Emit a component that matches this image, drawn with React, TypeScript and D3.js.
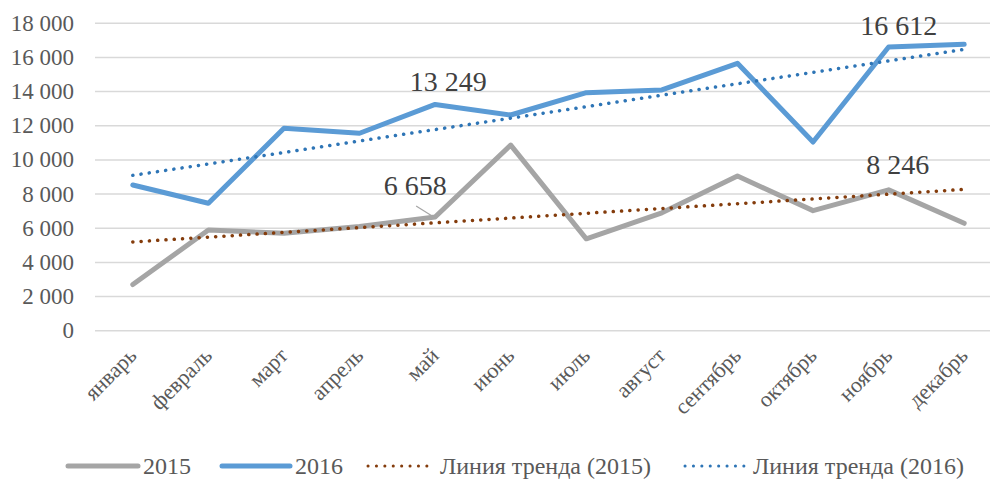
import React from 'react';
import * as d3 from 'd3';

const months = ['январь', 'февраль', 'март', 'апрель', 'май', 'июнь', 'июль', 'август', 'сентябрь', 'октябрь', 'ноябрь', 'декабрь'];
const values2015 = [2700, 5900, 5700, 6100, 6658, 10870, 5380, 6900, 9060, 7030, 8246, 6290];
const values2016 = [8530, 7460, 11850, 11560, 13249, 12630, 13935, 14100, 15655, 11050, 16612, 16770];
const yTicks = [0, 2000, 4000, 6000, 8000, 10000, 12000, 14000, 16000, 18000];

// labelled points: series, month index, label offset
const labels = [
    { series: 2015, idx: 4, dx: -20, dy: -22, leader: true },
    { series: 2016, idx: 4, dx: 13, dy: -13, leader: false },
    { series: 2015, idx: 10, dx: 9, dy: -16, leader: false },
    { series: 2016, idx: 10, dx: 10, dy: -12, leader: false },
];

const W = 990;
const H = 479;
const FONT = '"Liberation Serif", "Times New Roman", Times, serif';
const TEXT = '#595959';

const fmt = (v: number) => d3.format(',')(v).replace(/,/g, ' ');

function trend(vals: number[]) {
    const n = vals.length;
    const xs = vals.map((_, i) => i + 1);
    const mx = d3.mean(xs)!;
    const my = d3.mean(vals)!;
    const sxy = d3.sum(vals, (v, i) => (xs[i] - mx) * (v - my));
    const sxx = d3.sum(xs, x => (x - mx) ** 2);
    const b = sxy / sxx;
    const a = my - b * mx;
    return [a + b * 1, a + b * n];
}

const App: React.FC = () => {
    const x = d3.scaleBand<string>().domain(months).range([95, 1002]);
    const y = d3.scaleLinear().domain([0, 18000]).range([330.7, 23.3]);
    const cx = (m: string) => x(m)! + x.bandwidth() / 2;

    const line = d3.line<number>()
        .x((_, i) => cx(months[i]))
        .y(d => y(d));

    const t15 = trend(values2015);
    const t16 = trend(values2016);
    const first = cx(months[0]);
    const last = cx(months[months.length - 1]);

    const series: { [k: number]: number[] } = { 2015: values2015, 2016: values2016 };

    const legend = [
        { x: 68, w: 70, text: '2015', color: '#a5a5a5', dotted: false },
        { x: 222, w: 68, text: '2016', color: '#5b9bd5', dotted: false },
        { x: 368, w: 67, text: 'Линия тренда (2015)', color: '#843c0c', dotted: true },
        { x: 685, w: 63, text: 'Линия тренда (2016)', color: '#2e75b6', dotted: true },
    ];

    return (
        <svg width={W} height={H} style={{ position: 'absolute', left: 0, top: 0, background: '#fff', fontFamily: FONT }}>
            {yTicks.map(t => (
                <g key={t}>
                    <line x1={95} x2={1002} y1={y(t)} y2={y(t)} stroke="#d9d9d9" strokeWidth={1.5} />
                    <text x={74} y={y(t) + 7.5} textAnchor="end" fontSize={23} fill={TEXT}>{fmt(t)}</text>
                </g>
            ))}

            {months.map(m => (
                <text key={m} transform={`translate(${cx(m) + 5},${357}) rotate(-45)`} textAnchor="end" fontSize={22} fill={TEXT}>{m}</text>
            ))}

            <path d={line(values2015)!} fill="none" stroke="#a5a5a5" strokeWidth={5} strokeLinejoin="round" strokeLinecap="round" />
            <path d={line(values2016)!} fill="none" stroke="#5b9bd5" strokeWidth={5} strokeLinejoin="round" strokeLinecap="round" />

            <line x1={first} x2={last} y1={y(t15[0])} y2={y(t15[1])} stroke="#843c0c" strokeWidth={3.5} strokeDasharray="0.1 8.2" strokeLinecap="round" />
            <line x1={first} x2={last} y1={y(t16[0])} y2={y(t16[1])} stroke="#2e75b6" strokeWidth={3.5} strokeDasharray="0.1 8.2" strokeLinecap="round" />

            {labels.map((l, i) => {
                const v = series[l.series][l.idx];
                const px = cx(months[l.idx]);
                const py = y(v);
                return (
                    <g key={i}>
                        {l.leader && <line x1={px - 3} y1={py - 1} x2={px - 19} y2={py - 11} stroke="#a5a5a5" strokeWidth={1.2} />}
                        <text x={px + l.dx} y={py + l.dy} textAnchor="middle" fontSize={28} fill="#404040">{fmt(v)}</text>
                    </g>
                );
            })}

            {legend.map(l => (
                <g key={l.text}>
                    {l.dotted
                        ? <line x1={l.x} x2={l.x + l.w} y1={466} y2={466} stroke={l.color} strokeWidth={3} strokeDasharray="0.1 8.3" strokeLinecap="round" />
                        : <line x1={l.x} x2={l.x + l.w} y1={466} y2={466} stroke={l.color} strokeWidth={5} strokeLinecap="round" />}
                    <text x={l.x + l.w + 5} y={474} fontSize={24} fill={TEXT}>{l.text}</text>
                </g>
            ))}
        </svg>
    );
};

export default App;
